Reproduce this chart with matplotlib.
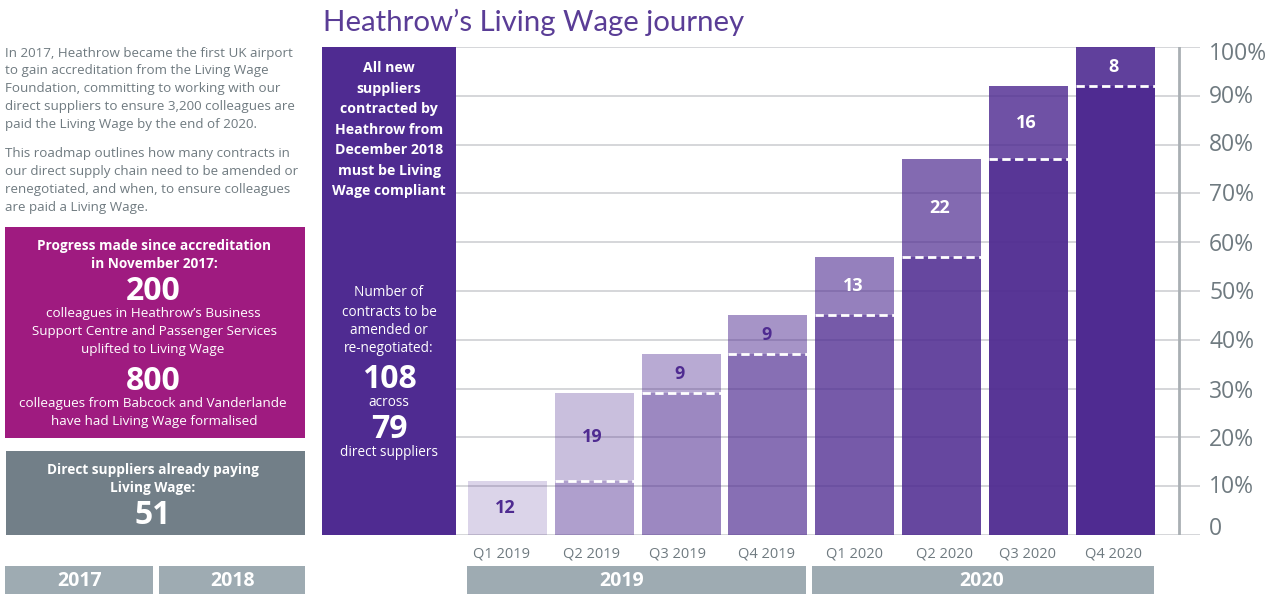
import matplotlib
matplotlib.use('Agg')
import matplotlib.pyplot as plt
from matplotlib.patches import Rectangle
from matplotlib.transforms import ScaledTranslation

plt.rcParams['font.family'] = ['Open Sans', 'Noto Sans', 'DejaVu Sans']

PURPLE = '#4f2b91'
MAGENTA = '#9f1b80'
SLATE = '#727f88'
BAND = '#9eabb2'
GREY_TEXT = '#6f7a80'
GRID = '#cacccf'

# Chart data
quarters = ['Q1 2019', 'Q2 2019', 'Q3 2019', 'Q4 2019', 'Q1 2020', 'Q2 2020', 'Q3 2020', 'Q4 2020']
contracts = [12, 19, 9, 9, 13, 22, 16, 8]
bar_base = [0, 11, 29, 37, 45, 57, 77, 92]
bar_top = [11, 29, 37, 45, 57, 77, 92, 100]
upper_alpha = [0.20, 0.30, 0.40, 0.50, 0.60, 0.70, 0.82, 0.90]
lower_alpha = [0.0, 0.45, 0.56, 0.68, 0.78, 0.87, 0.95, 1.0]
percent_ticks = [0, 10, 20, 30, 40, 50, 60, 70, 80, 90, 100]
percent_labels = ['0', '10%', '20%', '30%', '40%', '50%', '60%', '70%', '80%', '90%', '100%']

# small hand nudges of the labels in the original artwork, in pixels
quarter_nudge = [-5.5, -3, -4, -1, 0, 2.5, -1, -2]
percent_nudge = [-9, -2, 0, 0, -1, -1, 0, -1, -2.5, -2, 4]

fig = plt.figure(figsize=(12.8, 6.12), dpi=100)

# Chart axes, placed so that one x unit is one quarter
ax = fig.add_axes([322 / 1280, 1 - 535 / 612, (1200 - 322) / 1280, 488 / 612])
ax.set_xlim(-2.137, 7.978)
ax.set_ylim(0, 100)

for i in range(len(quarters)):
    ax.bar(i, bar_top[i] - bar_base[i], 0.91, bottom=bar_base[i], color=PURPLE,
           alpha=upper_alpha[i], linewidth=0, zorder=2)
    if bar_base[i] > 0:
        ax.bar(i, bar_base[i], 0.91, color=PURPLE, alpha=lower_alpha[i], linewidth=0, zorder=2)
        ax.plot([i - 0.455, i + 0.455], [bar_base[i], bar_base[i]], color='white',
                linewidth=2, dashes=(3, 1.6), zorder=3)
    mid = (bar_base[i] + bar_top[i]) / 2
    ax.text(i - 0.02, mid, str(contracts[i]), ha='center', va='center', fontsize=13, fontweight='bold',
            color=PURPLE if i < 4 else 'white', zorder=4)

ax.set_xticks(range(len(quarters)))
ax.set_xticklabels(quarters, fontsize=10.5, color=GREY_TEXT)
ax.tick_params(axis='x', length=0, pad=8)
ax.yaxis.tick_right()
ax.set_yticks(percent_ticks)
ax.set_yticklabels(percent_labels, fontsize=16.5, color=GREY_TEXT)
ax.tick_params(axis='y', length=0, pad=6.5)
for lab, dx in zip(ax.get_xticklabels(), quarter_nudge):
    lab.set_transform(lab.get_transform() + ScaledTranslation(dx / 100, 0, fig.dpi_scale_trans))
for lab, dy in zip(ax.get_yticklabels(), percent_nudge):
    lab.set_transform(lab.get_transform() + ScaledTranslation(0, -dy / 100, fig.dpi_scale_trans))
ax.grid(axis='y', color=GRID, linewidth=1.1, zorder=1)
ax.set_axisbelow(True)
for s in ax.spines.values():
    s.set_visible(False)
ax.axvline(7.736, color='#a9afb3', linewidth=2, zorder=1)

# Overlay in pixel coordinates for the boxes and the text around the chart
ov = fig.add_axes([0, 0, 1, 1], zorder=5)
ov.set_xlim(0, 1280)
ov.set_ylim(612, 0)
ov.axis('off')


def box(x0, y0, x1, y1, color):
    ov.add_patch(Rectangle((x0, y0), x1 - x0, y1 - y0, facecolor=color, edgecolor='none'))


def label(x, y, s, size, color='white', weight='normal', ha='center', **kw):
    ov.text(x, y, s, fontsize=size, color=color, fontweight=weight, ha=ha, va='center', **kw)


label(323, 22, 'Heathrow\u2019s Living Wage journey', 21.15, color='#5a3d96', ha='left',
      family=['Lato', 'Open Sans'])

intro = ['In 2017, Heathrow became the first UK airport',
         'to gain accreditation from the Living Wage',
         'Foundation, committing to working with our',
         'direct suppliers to ensure 3,200 colleagues are',
         'paid the Living Wage by the end of 2020.']
for n, line in enumerate(intro):
    label(5, 53 + n * 17.8, line, 9.65, color=GREY_TEXT, ha='left')
roadmap = ['This roadmap outlines how many contracts in',
           'our direct supply chain need to be amended or',
           'renegotiated, and when, to ensure colleagues',
           'are paid a Living Wage.']
for n, line in enumerate(roadmap):
    label(5, 154 + n * 17.8, line, 9.65, color=GREY_TEXT, ha='left')

box(5, 227, 305, 438, MAGENTA)
label(154, 246, 'Progress made since accreditation', 9.8, weight='bold')
label(154, 264, 'in November 2017:', 9.8, weight='bold')
label(153, 291, '200', 23, weight='bold')
label(153, 314, 'colleagues in Heathrow\u2019s Business', 9.7)
label(154, 331, 'Support Centre and Passenger Services', 9.6)
label(153, 349, 'uplifted to Living Wage', 9.7)
label(153, 381, '800', 23, weight='bold')
label(153, 404, 'colleagues from Babcock and Vanderlande', 9.7)
label(154, 422, 'have had Living Wage formalised', 9.7)

box(6, 451, 305, 535, SLATE)
label(153, 470, 'Direct suppliers already paying', 9.8, weight='bold')
label(153, 488, 'Living Wage:', 9.8, weight='bold')
label(153, 515, '51', 23, weight='bold')

box(5, 566, 153, 594, BAND)
box(159, 566, 305, 594, BAND)
box(467, 566, 806, 594, BAND)
box(812, 566, 1154, 594, BAND)
label(80, 581, '2017', 14, weight='bold')
label(233, 581, '2018', 14, weight='bold')
label(622, 581, '2019', 14, weight='bold')
label(982, 581, '2020', 14, weight='bold')

box(322, 47, 456, 535, PURPLE)
left_top = ['All new', 'suppliers', 'contracted by', 'Heathrow from', 'December 2018', 'must be Living', 'Wage compliant']
for n, line in enumerate(left_top):
    label(389, 68 + n * 20.5, line, 10.2, weight='bold')
for y, line in zip([293, 312, 330, 348], ['Number of', 'contracts to be', 'amended or', 're-negotiated:']):
    label(389, y, line, 9.8)
label(389, 380, '108', 23, weight='bold')
label(389, 402, 'across', 9.8)
label(389, 430, '79', 23, weight='bold')
label(389, 453, 'direct suppliers', 9.8)

fig.savefig('out.png', dpi=100)
